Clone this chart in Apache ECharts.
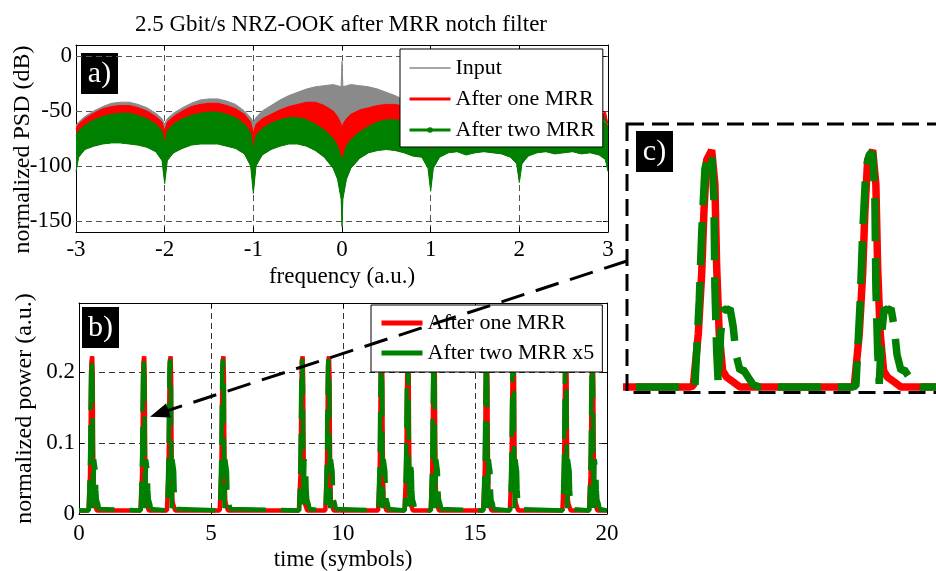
<!DOCTYPE html>
<html><head><meta charset="utf-8">
<script src="https://cdn.jsdelivr.net/npm/echarts@6/dist/echarts.min.js"></script>
<style>html,body{margin:0;padding:0;background:#fff}#c{width:936px;height:571px}</style>
</head><body><div id="c"></div>
<script>
// ---------- Panel a: power spectral density (envelopes) ----------
const freq = [-3, -2.97, -2.9, -2.8, -2.7, -2.6, -2.5, -2.4, -2.3, -2.2, -2.1, -2.03, -2, -1.97, -1.9, -1.8, -1.7, -1.6, -1.5, -1.4, -1.3, -1.2, -1.1, -1.03, -1, -0.97, -0.9, -0.8, -0.7, -0.6, -0.5, -0.4, -0.3, -0.2, -0.1, -0.05, -0.01, 0, 0.01, 0.05, 0.1, 0.2, 0.3, 0.4, 0.5, 0.6, 0.7, 0.8, 0.9, 0.97, 1, 1.03, 1.1, 1.2, 1.3, 1.4, 1.5, 1.6, 1.7, 1.8, 1.9, 1.97, 2, 2.03, 2.1, 2.2, 2.3, 2.4, 2.5, 2.6, 2.7, 2.8, 2.9, 2.97, 3];
const psdInputUpper = [-63, -60, -55, -50, -46, -43, -42, -42, -44, -47, -52, -57, -62, -57, -52, -47, -43, -40, -39, -39, -41, -44, -50, -56, -60, -56, -50, -45, -40, -36, -33, -30, -28, -27, -26, -27, -28, -5, -28, -27, -26, -27, -28, -30, -33, -36, -40, -45, -50, -56, -60, -56, -50, -44, -41, -39, -39, -40, -43, -47, -52, -57, -62, -57, -52, -47, -44, -42, -42, -43, -46, -50, -55, -60, -63];
const psdOneMrrUpper = [-66, -62, -57, -52, -48, -46, -45, -45, -47, -50, -55, -60, -68, -60, -55, -50, -46, -44, -43, -43, -45, -48, -53, -60, -70, -62, -57, -53, -49, -46, -44, -42, -42, -45, -50, -55, -62, -70, -62, -57, -53, -49, -47, -45, -44, -44, -46, -50, -55, -62, -75, -62, -55, -50, -46, -44, -43, -44, -46, -50, -55, -60, -70, -60, -55, -50, -47, -45, -45, -46, -48, -52, -57, -50, -62];
const psdTwoMrrUpper = [-72, -68, -63, -58, -55, -53, -52, -52, -54, -57, -62, -68, -80, -68, -62, -57, -54, -52, -51, -51, -53, -56, -62, -70, -85, -72, -66, -61, -58, -56, -56, -58, -62, -67, -75, -82, -92, -100, -92, -82, -76, -69, -64, -60, -58, -58, -60, -63, -68, -74, -88, -72, -64, -58, -55, -53, -52, -53, -55, -58, -63, -69, -82, -69, -63, -58, -55, -53, -53, -54, -56, -59, -63, -56, -70];
const psdTwoMrrLower = [-105, -92, -85, -82, -80, -79, -79, -80, -81, -83, -87, -95, -116, -95, -88, -84, -81, -80, -80, -80, -82, -84, -89, -100, -125, -100, -90, -85, -82, -80, -80, -82, -86, -92, -102, -112, -130, -155, -130, -112, -102, -93, -88, -86, -85, -86, -88, -91, -92, -102, -123, -102, -92, -88, -87, -90, -88, -87, -88, -89, -92, -98, -115, -98, -91, -88, -87, -89, -88, -87, -89, -88, -90, -94, -105];
const psdTicks = [0, -50, -100, -150];

// ---------- Panel b / c: time-domain pulses ----------
const pulsePeaks = [0.50, 2.47, 3.47, 5.47, 8.47, 9.47, 11.47, 12.47, 13.46, 15.45, 16.46, 18.45, 19.46];
const oneMrrOffsets = [-0.14, -0.114, -0.083, -0.062, -0.048, -0.031, 0, 0.02, 0.031, 0.047, 0.068, 0.093, 0.13, 0.176];
const oneMrrValues  = [0.005, 0.006, 0.054, 0.109, 0.166, 0.213, 0.222, 0.191, 0.115, 0.054, 0.02, 0.014, 0.01, 0.005];
const twoMrrOffsets = [-0.13, -0.104, -0.077, -0.062, -0.042, -0.021, 0, 0.014, 0.02, 0.031, 0.041, 0.056, 0.072, 0.093, 0.114, 0.134, 0.151, 0.176, 0.196, 0.227, 0.258, 0.3];
const twoMrrValues  = [0.005, 0.006, 0.085, 0.146, 0.205, 0.218, 0.22, 0.176, 0.097, 0.038, 0.008, 0.054, 0.077, 0.075, 0.077, 0.06, 0.035, 0.02, 0.021, 0.014, 0.007, 0.005];
const baselineLevel = 0.005;
const timeRange = [0, 20];
const zoomRange = [1.944, 3.994];

const FONT = 'Liberation Serif';
const GRAY = '#8a8a8a', RED = '#ff0000', GREEN = '#008000';

function lineData(vals) { return freq.map((f, i) => [f, vals[i]]); }
function pulseTrain(offsets, values) {
  const pts = [[timeRange[0], baselineLevel]];
  pulsePeaks.forEach(p => offsets.forEach((o, i) => pts.push([+(p + o).toFixed(4), values[i]])));
  pts.push([timeRange[1], baselineLevel]);
  return pts;
}

const txt = { fontFamily: FONT, fontSize: 23, color: '#000' };
function axisBase(extra) {
  return Object.assign({
    type: 'value',
    axisLine: { show: true, onZero: false, lineStyle: { color: '#000', width: 1 } },
    axisTick: { show: true, inside: true, length: 5, lineStyle: { color: '#000', width: 1 } },
    axisLabel: Object.assign({ show: true, margin: 5 }, txt),
    splitLine: { show: false },
    nameTextStyle: txt,
    nameMoveOverlap: false
  }, extra);
}
const gridDash = { type: [6, 4], color: '#555', width: 1 };

// band between an upper envelope and the lower envelope of the two-MRR trace
function bandSeries(name, upper, color) {
  return [
    { name: name + ' band', type: 'custom', xAxisIndex: 0, yAxisIndex: 0, data: [[0, 0]], silent: true, z: 2,
      renderItem: function (params, api) {
        const pts = [];
        for (let i = 0; i < freq.length; i++) pts.push(api.coord([freq[i], upper[i]]));
        for (let i = freq.length - 1; i >= 0; i--) pts.push(api.coord([freq[i], psdTwoMrrLower[i]]));
        return { type: 'polygon', shape: { points: pts }, style: { fill: color } };
      } },
    { name: name, type: 'line', xAxisIndex: 0, yAxisIndex: 0, data: lineData(upper), symbol: 'none',
      lineStyle: { color: color, width: 1 }, itemStyle: { color: color }, silent: true, z: 2 }
  ];
}

const series = [].concat(
  bandSeries('Input', psdInputUpper, GRAY),
  bandSeries('After one MRR', psdOneMrrUpper, RED),
  bandSeries('After two MRR', psdTwoMrrUpper, GREEN)
);
series.push({ name: 'twoLower', type: 'line', xAxisIndex: 0, yAxisIndex: 0, data: lineData(psdTwoMrrLower),
  symbol: 'none', lineStyle: { color: GREEN, width: 1 }, silent: true, z: 2 });
series.unshift({ name: 'psdGrid', type: 'line', xAxisIndex: 0, yAxisIndex: 0, data: [], z: 1,
  markLine: { silent: true, symbol: 'none', z: 1, label: { show: false }, animation: false,
    lineStyle: gridDash, data: psdTicks.map(v => ({ yAxis: v })) } });

series.push(
  { name: 'oneTime', type: 'line', xAxisIndex: 2, yAxisIndex: 2, data: pulseTrain(oneMrrOffsets, oneMrrValues),
    symbol: 'none', lineStyle: { color: RED, width: 4.5 }, itemStyle: { color: RED }, z: 3 },
  { name: 'twoTime', type: 'line', xAxisIndex: 2, yAxisIndex: 2, data: pulseTrain(twoMrrOffsets, twoMrrValues),
    symbol: 'none', lineStyle: { color: GREEN, width: 4.5, type: [40, 15] }, itemStyle: { color: GREEN }, z: 3 },
  { name: 'oneZoom', type: 'line', xAxisIndex: 4, yAxisIndex: 4, data: pulseTrain(oneMrrOffsets, oneMrrValues),
    symbol: 'none', lineStyle: { color: RED, width: 7.5 }, z: 3 },
  { name: 'twoZoom', type: 'line', xAxisIndex: 4, yAxisIndex: 4, data: pulseTrain(twoMrrOffsets, twoMrrValues),
    symbol: 'none', lineStyle: { color: GREEN, width: 7.5, type: [43, 17] }, z: 3 }
);

const legendText = { fontFamily: FONT, fontSize: 22, color: '#000', lineHeight: 24 };
const labelNames = { oneTime: 'After one MRR', twoTime: 'After two MRR x5' };

function tag(label, x, y) {
  return { type: 'group', z: 100, children: [
    { type: 'rect', shape: { x: x, y: y, width: 37, height: 41 }, style: { fill: '#000' } },
    { type: 'text', style: { x: x + 18.5, y: y + 21, text: label, fill: '#fff', font: '30px "Liberation Serif"', align: 'center', verticalAlign: 'middle' } }
  ] };
}

const gridCommon = { containLabel: false, outerBoundsMode: 'none' };
const yName = { fontFamily: FONT, fontSize: 24, color: '#000' };
const option = {
  animation: false,
  backgroundColor: '#fff',
  title: { text: '2.5 Gbit/s NRZ-OOK after MRR notch filter', left: 336, top: 8, textAlign: 'center',
    textStyle: { fontFamily: FONT, fontSize: 23, fontWeight: 'normal', color: '#000' } },
  grid: [
    Object.assign({ left: 76, top: 45, width: 532, height: 187 }, gridCommon),
    Object.assign({ left: 79, top: 303, width: 528, height: 211 }, gridCommon),
    Object.assign({ left: 627, top: 124, width: 330, height: 268.5 }, gridCommon)
  ],
  xAxis: [
    axisBase({ gridIndex: 0, position: 'bottom', min: -3, max: 3, interval: 1,
      splitLine: { show: true, lineStyle: gridDash },
      axisLabel: Object.assign({ margin: 6 }, txt),
      name: 'frequency (a.u.)', nameLocation: 'middle', nameGap: 33 }),
    axisBase({ gridIndex: 0, position: 'top', min: -3, max: 3, interval: 1, axisLabel: { show: false } }),
    axisBase({ gridIndex: 1, position: 'bottom', min: timeRange[0], max: timeRange[1], interval: 5,
      splitLine: { show: true, lineStyle: { type: [6, 4], color: '#333', width: 1 } },
      axisLabel: Object.assign({ margin: 8 }, txt),
      name: 'time (symbols)', nameLocation: 'middle', nameGap: 34 }),
    axisBase({ gridIndex: 1, position: 'top', min: timeRange[0], max: timeRange[1], interval: 5, axisLabel: { show: false } }),
    { gridIndex: 2, type: 'value', min: zoomRange[0], max: zoomRange[1], show: false }
  ],
  yAxis: [
    axisBase({ gridIndex: 0, position: 'left', min: -160, max: 10,
      axisTick: { show: true, inside: true, length: 5, customValues: psdTicks, lineStyle: { color: '#000' } },
      axisLabel: Object.assign({ margin: 4, customValues: psdTicks }, txt),
      name: 'normalized PSD (dB)', nameLocation: 'middle', nameGap: 41,
      nameTextStyle: Object.assign({ padding: [0, 22, 0, 0] }, yName) }),
    axisBase({ gridIndex: 0, position: 'right', min: -160, max: 10,
      axisTick: { show: true, inside: true, length: 5, customValues: psdTicks, lineStyle: { color: '#000' } },
      axisLabel: { show: false } }),
    axisBase({ gridIndex: 1, position: 'left', min: 0, max: 0.297, interval: 0.1,
      splitLine: { show: true, lineStyle: { type: [6, 4], color: '#333', width: 1 } },
      axisLabel: Object.assign({ margin: 4, showMaxLabel: false }, txt),
      name: 'normalized power (a.u.)', nameLocation: 'middle', nameGap: 42, nameTextStyle: yName }),
    axisBase({ gridIndex: 1, position: 'right', min: 0, max: 0.297, interval: 0.1, axisLabel: { show: false } }),
    { gridIndex: 2, type: 'value', min: 0, max: 0.246, show: false }
  ],
  legend: [
    { left: 400, top: 49, orient: 'vertical', itemWidth: 41, itemHeight: 7, itemGap: 7,
      padding: [7, 8, 5, 8], backgroundColor: '#fff', borderColor: '#000', borderWidth: 1, borderRadius: 0,
      selectedMode: false, textStyle: legendText,
      data: [
        { name: 'Input', itemStyle: { opacity: 0 }, lineStyle: { color: GRAY, width: 1.5 } },
        { name: 'After one MRR', itemStyle: { opacity: 0 }, lineStyle: { color: RED, width: 3 } },
        { name: 'After two MRR', itemStyle: { color: GREEN, opacity: 1 }, lineStyle: { color: GREEN, width: 3 } }
      ] },
    { left: 371, top: 305, orient: 'vertical', itemWidth: 41, itemHeight: 7, itemGap: 6,
      padding: [6, 8, 7, 8], backgroundColor: '#fff', borderColor: '#000', borderWidth: 1, borderRadius: 0,
      selectedMode: false, textStyle: legendText, formatter: n => labelNames[n],
      data: [
        { name: 'oneTime', itemStyle: { opacity: 0 }, lineStyle: { color: RED, width: 5, type: 'solid' } },
        { name: 'twoTime', itemStyle: { opacity: 0 }, lineStyle: { color: GREEN, width: 5, type: 'solid' } }
      ] }
  ],
  series: series,
  graphic: [
    tag('a)', 81, 53),
    tag('b)', 82, 307),
    tag('c)', 636, 131),
    { type: 'rect', z: 100, shape: { x: 627, y: 124, width: 340, height: 268.5 },
      style: { fill: 'none', stroke: '#000', lineWidth: 3, lineDash: [17, 8] } },
    { type: 'line', z: 100, shape: { x1: 627, y1: 261, x2: 168, y2: 410.5 },
      style: { stroke: '#000', lineWidth: 3, lineDash: [24, 12] } },
    { type: 'polygon', z: 100, shape: { points: [[150, 416.8], [171, 417.5], [166, 403.5]] },
      style: { fill: '#000' } }
  ]
};

const chart = echarts.init(document.getElementById('c'));
chart.setOption(option);
</script>
</body></html>
